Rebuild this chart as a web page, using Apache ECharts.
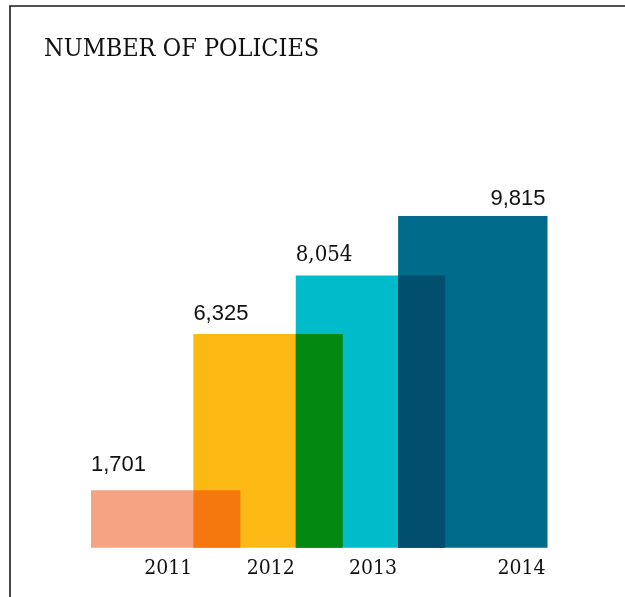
<!DOCTYPE html>
<html>
<head>
<meta charset="utf-8">
<script src="https://cdn.jsdelivr.net/npm/echarts@6/dist/echarts.min.js"></script>
<style>
html,body{margin:0;padding:0;background:#fff;}
#chart{width:625px;height:597px;}
</style>
</head>
<body>
<div id="chart"></div>
<script>
// ---- data ----
const title = 'NUMBER OF POLICIES';
const years = ['2011', '2012', '2013', '2014'];
const policies = [1701, 6325, 8054, 9815];

// ---- style ----
const barColors = ['#F5A383', '#FDB913', '#00BBCA', '#006A8A'];
const overlapColors = ['#F4780D', '#038812', '#024E6E'];
const SPAN = 1.459; // bar width in category steps
const serifFont = '"DejaVu Serif Condensed", "DejaVu Serif", serif';
const sansFont = '"Liberation Sans", Arial, sans-serif';
// per-label style: alignment to bar edge, gap above bar top, font
const valueLabelStyle = [
  { align: 'left', gap: 14, font: sansFont },
  { align: 'left', gap: 9, font: sansFont },
  { align: 'left', gap: 9, font: serifFont },
  { align: 'right', gap: 6, font: sansFont }
];

const chart = echarts.init(document.getElementById('chart'), null, { renderer: 'canvas' });

const barData = policies.map((v, i) => [i, v]);
const overlapData = policies.slice(0, -1).map((v, i) => [i + 1, Math.min(v, policies[i + 1])]);

const fmt = v => v.toLocaleString('en-US');

chart.setOption({
  animation: false,
  backgroundColor: '#fff',
  grid: { left: 91, right: 77.5, top: 209.7, bottom: 49.3 },
  xAxis: { type: 'value', min: 0, max: policies.length - 1 + SPAN, show: false },
  yAxis: { type: 'value', min: 0, max: 10000, show: false },
  title: {
    text: title, left: 39, top: 32,
    textStyle: { fontFamily: serifFont, fontSize: 25, fontWeight: 'normal', color: '#111' }
  },
  graphic: [{
    type: 'rect', shape: { x: 10, y: 6, width: 700, height: 700 },
    style: { fill: 'none', stroke: '#1a1a1a', lineWidth: 1.6 }, silent: true
  }],
  series: [
    {
      type: 'custom',
      data: barData,
      renderItem: function (params, api) {
        const i = api.value(0), v = api.value(1);
        const p0 = api.coord([i, v]);
        const p1 = api.coord([i + SPAN, 0]);
        const ls = valueLabelStyle[i];
        const lx = ls.align === 'left' ? p0[0] : p1[0] - 2;
        const yx = i < policies.length - 1 ? api.coord([i + 1, 0])[0] - 1 : p1[0] - 2;
        return {
          type: 'group',
          children: [
            { type: 'rect', shape: { x: p0[0], y: p0[1], width: p1[0] - p0[0], height: p1[1] - p0[1] },
              style: { fill: barColors[i] } },
            { type: 'text', style: { text: fmt(v), x: lx, y: p0[1] - ls.gap, align: ls.align, verticalAlign: 'bottom',
              font: '22px ' + ls.font, fill: '#111' } },
            { type: 'text', style: { text: years[i], x: yx, y: p1[1] + 10, align: 'right', verticalAlign: 'top',
              font: '21px ' + serifFont, fill: '#111' } }
          ]
        };
      }
    },
    {
      type: 'custom',
      data: overlapData,
      z: 3,
      renderItem: function (params, api) {
        const x = api.value(0), v = api.value(1);
        const p0 = api.coord([x, v]);
        const p1 = api.coord([x - 1 + SPAN, 0]);
        return { type: 'rect', shape: { x: p0[0], y: p0[1], width: p1[0] - p0[0], height: p1[1] - p0[1] },
          style: { fill: overlapColors[params.dataIndex] } };
      }
    }
  ]
});
</script>
</body>
</html>
